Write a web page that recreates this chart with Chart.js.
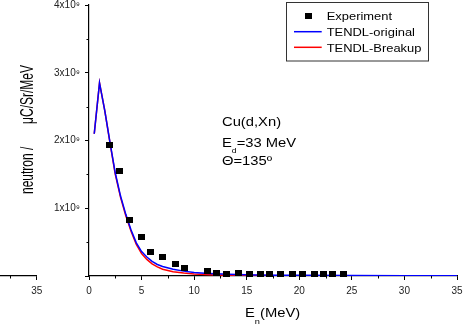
<!DOCTYPE html>
<html>
<head>
<meta charset="utf-8">
<script src="https://cdn.jsdelivr.net/npm/chart.js@4.4.0/dist/chart.umd.min.js"></script>
<style>
  html, body { margin: 0; padding: 0; background: #fff; }
  #wrap { position: relative; width: 473px; height: 333px; overflow: hidden; }
  #main, #stub { position: absolute; left: 0; top: 0; }
</style>
</head>
<body>
<div id="wrap">
  <canvas id="main" width="473" height="333"></canvas>
  <canvas id="stub" width="60" height="333"></canvas>
</div>
<script>
// yields are in units of 1e9 neutrons / uC/Sr/MeV
const expEnergy = [1.99, 2.9, 3.87, 4.98, 5.84, 7.0, 8.2, 9.1, 11.3, 12.15, 13.1, 14.2,
  15.25, 16.3, 17.2, 18.2, 19.35, 20.3, 21.4, 22.35, 23.2, 24.25];
const expYield = [1.94, 1.55, 0.83, 0.57, 0.36, 0.28, 0.17, 0.125, 0.073, 0.05, 0.035, 0.05,
  0.035, 0.025, 0.025, 0.03, 0.03, 0.03, 0.03, 0.03, 0.03, 0.03];

const tendlEnergy = [0.5, 1, 1.5, 2, 2.5, 3, 3.5, 4, 4.5, 5, 5.5, 6, 6.5, 7, 8, 9, 10, 11, 12,
  14, 16, 18, 20, 25, 30, 35];
const tendlOriginal = [2.10, 2.85, 2.44, 1.97, 1.52, 1.18, 0.91, 0.68, 0.49, 0.36, 0.28, 0.215,
  0.17, 0.14, 0.10, 0.072, 0.052, 0.04, 0.032, 0.022, 0.016, 0.012, 0.01, 0.006, 0.004, 0.003];
const tendlBreakup = [2.10, 2.85, 2.44, 1.96, 1.50, 1.16, 0.89, 0.66, 0.465, 0.33, 0.245, 0.18,
  0.135, 0.10, 0.063, 0.043, 0.03, 0.021, 0.015, 0.009, 0.006, 0.004, 0.003, 0.002, 0.001, 0.001];

const xTickLabels = ['0', '5', '10', '15', '20', '25', '30', '35'];
const yTickLabels = ['', '1x10\u2079', '2x10\u2079', '3x10\u2079', '4x10\u2079'];

const FONT = '"Liberation Sans", Arial, sans-serif';
const TEXT_STRETCH = 1.23;

Chart.defaults.font.family = FONT;
Chart.defaults.color = '#111';

// square marker used for the experimental points and the legend
const marker = document.createElement('canvas');
marker.width = 7;
marker.height = 6;
const mctx = marker.getContext('2d');
mctx.fillStyle = '#000';
mctx.fillRect(0, 0, 7, 6);

const toPoints = (xs, ys) => xs.map((x, i) => ({ x, y: ys[i] }));
const isMajor = (v, step) => Math.abs(v / step - Math.round(v / step)) < 1e-6;

function drawText(ctx, str, x, y, size) {
  ctx.save();
  ctx.translate(x, y);
  ctx.scale(TEXT_STRETCH, 1);
  ctx.font = size + 'px ' + FONT;
  ctx.textAlign = 'left';
  ctx.textBaseline = 'alphabetic';
  ctx.fillStyle = '#000';
  ctx.fillText(str, 0, 0);
  const w = ctx.measureText(str).width * TEXT_STRETCH;
  ctx.restore();
  return w;
}

function drawVerticalText(ctx, str, x, y, size, align) {
  ctx.save();
  ctx.translate(x, y);
  ctx.rotate(-Math.PI / 2);
  ctx.scale(1, 1.5);
  ctx.font = size + 'px ' + FONT;
  ctx.textAlign = align;
  ctx.fillStyle = '#000';
  ctx.fillText(str, 0, 0);
  ctx.restore();
}

// short unlabeled ticks between the major ones
const minorTicks = {
  id: 'minorTicks',
  afterDraw(chart) {
    const ctx = chart.ctx;
    ctx.save();
    ctx.strokeStyle = '#000';
    ctx.lineWidth = 1;
    Object.values(chart.scales).forEach(scale => {
      if (!scale.options.display) return;
      const major = scale.options.ticks.stepSize * 2;
      scale.ticks.forEach(t => {
        if (isMajor(t.value, major)) return;
        const p = Math.round(scale.getPixelForValue(t.value)) + 0.5;
        ctx.beginPath();
        if (scale.isHorizontal()) {
          ctx.moveTo(p, scale.top);
          ctx.lineTo(p, scale.top + 2.5);
        } else {
          ctx.moveTo(scale.right, p);
          ctx.lineTo(scale.right - 2.5, p);
        }
        ctx.stroke();
      });
    });
    ctx.restore();
  }
};

// legend box, reaction label and axis titles
const annotations = {
  id: 'annotations',
  afterDraw(chart) {
    const ctx = chart.ctx;
    const sets = chart.data.datasets;

    ctx.save();
    ctx.strokeStyle = '#333';
    ctx.lineWidth = 1;
    ctx.strokeRect(286.5, 2.5, 142, 58.5);
    ctx.drawImage(marker, 305, 12.5);
    ctx.lineWidth = 1.5;
    [[sets[1], 31.7], [sets[2], 47.3]].forEach(([ds, y]) => {
      ctx.strokeStyle = ds.borderColor;
      ctx.beginPath();
      ctx.moveTo(294, y);
      ctx.lineTo(321.7, y);
      ctx.stroke();
    });
    ctx.restore();
    drawText(ctx, sets[0].label, 326.7, 20, 10.5);
    drawText(ctx, sets[1].label, 326.7, 35.7, 10.5);
    drawText(ctx, sets[2].label, 326.7, 51.5, 10.5);

    drawText(ctx, 'Cu(d,Xn)', 222, 126, 12);
    let x = 222;
    x += drawText(ctx, 'E', x, 146.5, 12);
    x += drawText(ctx, 'd', x, 153, 7);
    drawText(ctx, '=33 MeV', x, 146.5, 12);
    drawText(ctx, '\u0398=135\u00ba', 222, 165, 12);

    x = 245;
    x += drawText(ctx, 'E', x, 317.3, 12);
    x += drawText(ctx, 'n', x, 323.5, 7.5);
    drawText(ctx, '(MeV)', x, 317.3, 12);

    drawVerticalText(ctx, 'neutron /', 33.3, 194, 12, 'left');
    drawVerticalText(ctx, '\u03bcC/Sr/MeV', 33.3, 65, 12, 'right');
  }
};

const axisLine = { display: true, color: '#000', width: 1.2 };

function tickGrid(step) {
  return {
    display: true,
    drawOnChartArea: false,
    drawTicks: true,
    tickLength: 4,
    tickWidth: 1,
    tickColor: c => (c.tick && isMajor(c.tick.value, step) ? '#000' : 'rgba(0,0,0,0)')
  };
}

new Chart(document.getElementById('main'), {
  type: 'scatter',
  data: {
    datasets: [
      {
        label: 'Experiment',
        data: toPoints(expEnergy, expYield),
        pointStyle: marker,
        pointRadius: 4,
        showLine: false,
        clip: false
      },
      {
        label: 'TENDL-original',
        data: toPoints(tendlEnergy, tendlOriginal),
        showLine: true,
        borderColor: '#0000ff',
        borderWidth: 1.5,
        pointRadius: 0,
        tension: 0
      },
      {
        label: 'TENDL-Breakup',
        data: toPoints(tendlEnergy, tendlBreakup),
        showLine: true,
        borderColor: '#ff0000',
        borderWidth: 1.5,
        pointRadius: 0,
        tension: 0
      }
    ]
  },
  options: {
    responsive: false,
    animation: false,
    devicePixelRatio: 1,
    layout: { padding: { top: 2.3, right: 16, bottom: 0, left: 0 } },
    plugins: { legend: { display: false }, tooltip: { enabled: false } },
    scales: {
      x: {
        type: 'linear',
        min: 0,
        max: 35,
        border: axisLine,
        grid: tickGrid(5),
        ticks: {
          stepSize: 2.5,
          autoSkip: false,
          maxRotation: 0,
          padding: 5,
          font: { size: 10 },
          color: '#222',
          callback: v => (isMajor(v, 5) ? xTickLabels[Math.round(v / 5)] : '')
        },
        afterFit(scale) {
          scale.height = 57;
          scale.paddingLeft = 0;
          scale.paddingRight = 0;
        }
      },
      y: {
        type: 'linear',
        min: 0,
        max: 4,
        border: axisLine,
        grid: tickGrid(1),
        ticks: {
          stepSize: 0.5,
          autoSkip: false,
          padding: 5,
          font: { size: 10 },
          color: '#222',
          callback: v => (isMajor(v, 1) ? yTickLabels[Math.round(v)] : '')
        },
        afterFit(scale) {
          scale.width = 89;
          scale.paddingTop = 0;
          scale.paddingBottom = 0;
        }
      }
    }
  },
  plugins: [minorTicks, annotations]
});

// end of the neighbouring panel's energy axis at the left edge
new Chart(document.getElementById('stub'), {
  type: 'scatter',
  data: { datasets: [] },
  options: {
    responsive: false,
    animation: false,
    devicePixelRatio: 1,
    layout: { padding: { top: 2.3, right: 23.3, bottom: 0, left: 0 } },
    plugins: { legend: { display: false }, tooltip: { enabled: false } },
    scales: {
      x: {
        type: 'linear',
        min: 31.51,
        max: 35,
        border: axisLine,
        grid: tickGrid(5),
        ticks: {
          stepSize: 2.5,
          includeBounds: false,
          autoSkip: false,
          maxRotation: 0,
          padding: 5,
          font: { size: 10 },
          color: '#222',
          callback: v => (isMajor(v, 5) ? String(v) : '')
        },
        afterFit(scale) {
          scale.height = 57;
          scale.paddingLeft = 0;
          scale.paddingRight = 0;
        }
      },
      y: { display: false, min: 0, max: 4 }
    }
  },
  plugins: [minorTicks]
});
</script>
</body>
</html>
